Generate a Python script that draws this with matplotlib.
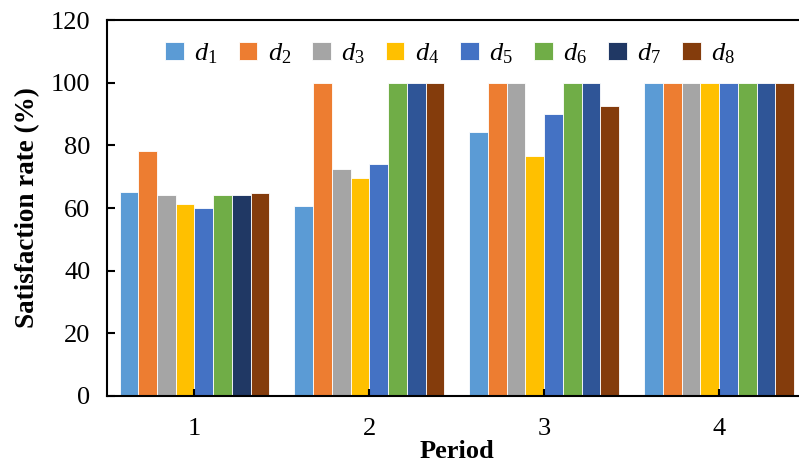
import matplotlib
matplotlib.use("Agg")
import matplotlib.pyplot as plt
import numpy as np

plt.rcParams['font.family'] = ['Liberation Serif', 'DejaVu Serif']
plt.rcParams['mathtext.fontset'] = 'custom'
plt.rcParams['mathtext.it'] = 'Liberation Serif:italic'
plt.rcParams['mathtext.rm'] = 'Liberation Serif'

periods = ["1", "2", "3", "4"]
series = ["$d_1$", "$d_2$", "$d_3$", "$d_4$", "$d_5$", "$d_6$", "$d_7$", "$d_8$"]
d1 = [65.0, 60.5, 84.2, 100]
d2 = [78.2, 100, 100, 100]
d3 = [64.3, 72.4, 100, 100]
d4 = [61.3, 69.7, 76.6, 100]
d5 = [60.1, 73.9, 90.0, 100]
d6 = [64.3, 100, 100, 100]
d7 = [64.0, 100, 100, 100]
d8 = [64.7, 100, 92.5, 100]
values = [d1, d2, d3, d4, d5, d6, d7, d8]
colors = ["#5B9BD5", "#ED7D31", "#A5A5A5", "#FFC000", "#4472C4", "#70AD47", "#2F5597", "#843C0C"]

fig = plt.figure(figsize=(7.99, 4.65), dpi=100)
# axes extend slightly beyond the right edge like the reference (cropped)
ax = fig.add_axes([107/799, 1-396/465, (806.5-107)/799, (396-20)/465])

x = np.arange(len(periods))
n = len(series)
w = 0.857 / n
for i, (vals, c, lab) in enumerate(zip(values, colors, series)):
    bars = ax.bar(x + (i - (n-1)/2) * w, vals, width=w, color=c, edgecolor='white',
                  linewidth=0.6, label=lab)
    if i == 6:
        bars[0].set_facecolor("#203864")

ax.set_xlim(-0.5, len(periods) - 0.5)
ax.set_ylim(0, 120)
ax.set_yticks(np.arange(0, 121, 20))
ax.set_xticks(x)
ax.set_xticklabels(periods)
ax.tick_params(axis='y', direction='in', length=6, width=1.5, labelsize=19, pad=12)
ax.tick_params(axis='x', direction='in', length=5, width=1.5, labelsize=19, pad=16)
for s in ax.spines.values():
    s.set_linewidth(1.5)
ax.spines['right'].set_visible(False)

ax.set_ylabel("Satisfaction rate (%)", fontsize=19.5, fontweight='bold')
ax.yaxis.set_label_coords(-(107-40)/(806.5-107), (396-208)/376)
ax.set_xlabel("Period", fontsize=19, fontweight='bold', labelpad=0)

ax.legend(loc='upper left', bbox_to_anchor=(0.068, 0.972), ncol=8, frameon=False,
          fontsize=19, handlelength=0.7, handleheight=0.7, handletextpad=0.4,
          columnspacing=0.8, borderaxespad=0)

fig.savefig("out.png", dpi=100)
